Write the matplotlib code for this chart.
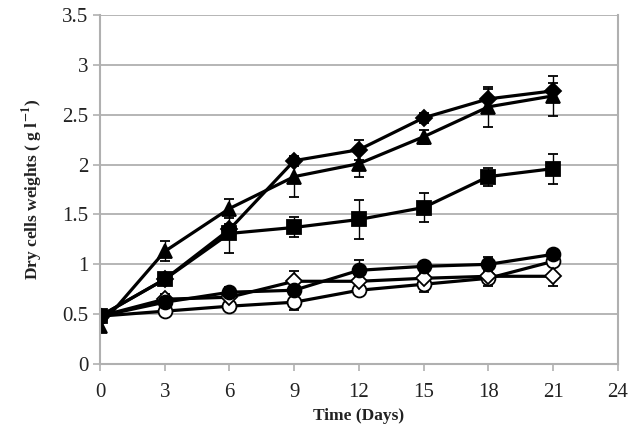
import numpy as np
import matplotlib.pyplot as plt

plt.rcParams['font.family'] = ['Liberation Serif', 'DejaVu Serif']
plt.rcParams['mathtext.fontset'] = 'stix'

# 数据
days = [0, 3, 6, 9, 12, 15, 18, 21]

diamond_f = [0.48, 0.85, 1.35, 2.04, 2.15, 2.47, 2.66, 2.74]
diamond_f_err = [0.03, 0.04, 0.05, 0.05, 0.1, 0.05, 0.1, 0.08]

triangle = [0.38, 1.13, 1.56, 1.88, 2.01, 2.28, 2.58, 2.69]
triangle_err = [0.03, 0.1, 0.1, 0.2, 0.13, 0.07, 0.2, 0.2]

square = [0.48, 0.85, 1.31, 1.37, 1.45, 1.57, 1.88, 1.96]
square_err = [0.03, 0.05, 0.2, 0.1, 0.2, 0.15, 0.09, 0.15]

circle_f = [0.48, 0.62, 0.72, 0.74, 0.94, 0.98, 1.0, 1.1]
circle_f_err = [0.03, 0.04, 0.05, 0.05, 0.1, 0.04, 0.07, 0.04]

diamond_o = [0.48, 0.65, 0.67, 0.83, 0.83, 0.86, 0.88, 0.88]
diamond_o_err = [0.03, 0.05, 0.05, 0.1, 0.05, 0.05, 0.1, 0.1]

circle_o = [0.48, 0.53, 0.58, 0.62, 0.74, 0.80, 0.86, 1.03]
circle_o_err = [0.03, 0.04, 0.05, 0.08, 0.05, 0.08, 0.05, 0.05]

fig = plt.figure(figsize=(6.35, 4.45), dpi=100)
ax = fig.add_axes([0.1575, 0.182, 0.8155, 0.784])

series = [
    (circle_o, circle_o_err, 'o', 'white', 10),
    (diamond_o, diamond_o_err, 'D', 'white', 8),
    (circle_f, circle_f_err, 'o', 'black', 10),
    (square, square_err, 's', 'black', 10),
    (triangle, triangle_err, '^', 'black', 10),
    (diamond_f, diamond_f_err, 'D', 'black', 8),
]
for y, e, m, fc, ms in series:
    ax.errorbar(days, y, yerr=e, color='black', lw=2.3, marker=m, ms=ms,
                mfc=fc, mec='black', mew=1.3, ecolor='black', elinewidth=1,
                capsize=3.5, capthick=1)

ax.set_xlim(0, 24)
ax.set_ylim(0, 3.5)
ax.set_xticks(np.arange(0, 25, 3))
ax.set_yticks(np.arange(0, 3.6, 0.5))
ax.set_yticklabels(['0', '0.5', '1', '1.5', '2', '2.5', '3', '3.5'])
ax.yaxis.grid(True, color='#b0b0b0', lw=1.3)
ax.set_axisbelow(True)
for s in ['left', 'bottom', 'right']:
    ax.spines[s].set_color('#b0b0b0')
    ax.spines[s].set_linewidth(1.5)
ax.spines['top'].set_visible(False)
ax.tick_params(axis='both', colors='#b0b0b0', labelcolor='#222222',
               labelsize=15, length=5, width=1.2)
ax.tick_params(axis='x', pad=9)

ax.set_xlabel('Time (Days)', fontsize=12.5, fontweight='bold', color='#222222')
ax.set_ylabel(r'Dry cells weights ( g l$^{\mathbf{-1}}$)', fontsize=12.5,
              fontweight='bold', color='#222222', labelpad=12)

plt.savefig('out.png', dpi=100)
